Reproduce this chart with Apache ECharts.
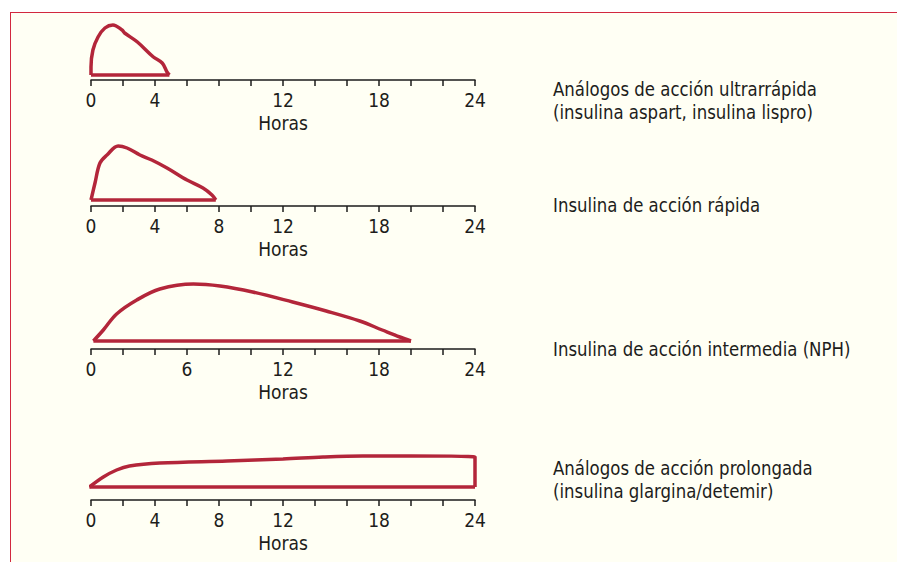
<!DOCTYPE html>
<html>
<head>
<meta charset="utf-8">
<script src="https://cdn.jsdelivr.net/npm/echarts@6/dist/echarts.min.js"></script>
<style>
  html, body { margin: 0; padding: 0; background: #fff; }
  #frame {
    position: absolute; left: 10px; top: 12px; width: 887px; height: 550px;
    background: #fffff4; border-left: 1px solid #d2283f; border-top: 1px solid #d2283f;
  }
  #chart { position: absolute; left: 0; top: 0; width: 897px; height: 562px; }
</style>
</head>
<body>
<div id="frame"></div>
<div id="chart"></div>
<script>
(function() {
  var ink = '#1d1d1b';
  var red = '#b3263a';
  var font = '"DejaVu Sans Condensed", "Liberation Sans", sans-serif';

  // hours vs. relative effect (px-ish units)
  var ultraRapid = [[0, 0], [0, 8], [0.12, 25], [0.44, 38], [0.87, 47], [1.37, 50], [1.94, 45],
    [2.1, 42], [2.9, 33], [3.9, 18], [4.45, 12], [4.75, 3], [4.9, 0]];
  var rapid = [[0, 0], [0.25, 17], [0.56, 37], [1.0, 45], [1.7, 54], [2.25, 52], [3.06, 45],
    [3.8, 40], [4.75, 32], [6.0, 20], [7.0, 12], [7.56, 5], [7.8, 0]];
  var nph = [[0.15, 0], [0.77, 11], [1.6, 27], [2.86, 41], [4.3, 52], [6.4, 57], [8.06, 55],
    [10.1, 49], [12.6, 39], [14.7, 30], [16.8, 20], [18.2, 11], [19.3, 4], [20.0, 0]];
  var prolonged = [[-0.1, 0], [0.77, 10], [1.6, 17], [2.4, 21], [4.3, 24], [8.5, 26],
    [12, 28], [14.5, 30], [17, 31], [20, 31], [24, 30], [24, 0]];

  var tickLabels1 = [0, 4, 12, 18, 24];
  var tickLabels2 = [0, 4, 8, 12, 18, 24];
  var tickLabels3 = [0, 6, 12, 18, 24];
  var tickLabels4 = [0, 4, 8, 12, 18, 24];

  var names = [
    'Análogos de acción ultrarrápida\n(insulina aspart, insulina lispro)',
    'Insulina de acción rápida',
    'Insulina de acción intermedia (NPH)',
    'Análogos de acción prolongada\n(insulina glargina/detemir)'
  ];

  var curves = [ultraRapid, rapid, nph, prolonged];
  var ticks = [tickLabels1, tickLabels2, tickLabels3, tickLabels4];

  // layout per panel: axis line y, y-axis min (gap under curve), label text y
  var axisY = [80, 206, 349, 500];
  var yMin = [-5, -6, -8, -13];
  var textY = [89, 205, 349, 468];

  var grids = [], xAxes = [], yAxes = [], series = [], graphics = [];
  curves.forEach(function(c, i) {
    grids.push({ left: 91, width: 384, top: axisY[i] - 70, height: 70 });
    xAxes.push({
      gridIndex: i, type: 'value', min: 0, max: 24, interval: 2,
      name: 'Horas', nameLocation: 'middle', nameGap: 33,
      nameTextStyle: { color: ink, fontSize: 19, fontFamily: font },
      axisLine: { onZero: false, lineStyle: { color: ink, width: 1.5 } },
      axisTick: { length: 6, lineStyle: { color: ink, width: 1.5 } },
      axisLabel: { customValues: ticks[i], color: ink, fontSize: 19, fontFamily: font, margin: 10 },
      splitLine: { show: false }
    });
    yAxes.push({ gridIndex: i, type: 'value', min: yMin[i], max: 70 + yMin[i], show: false });
    series.push({
      type: 'line', xAxisIndex: i, yAxisIndex: i, data: c, smooth: 0.35,
      showSymbol: false, lineStyle: { color: red, width: 3.5 }, silent: true
    });
    series.push({
      type: 'line', xAxisIndex: i, yAxisIndex: i,
      data: [[c[0][0], 0], [c[c.length - 1][0], 0]],
      showSymbol: false, lineStyle: { color: red, width: 3.5 }, silent: true
    });
    graphics.push({
      type: 'text', left: 553, top: textY[i] - 11, scaleX: 0.97,
      style: { text: names[i], fill: ink, font: '19px ' + font, lineHeight: 23 }
    });
  });

  var chart = echarts.init(document.getElementById('chart'), null, { renderer: 'svg' });
  chart.setOption({
    animation: false,
    grid: grids,
    xAxis: xAxes,
    yAxis: yAxes,
    series: series,
    graphic: graphics
  });
  window.addEventListener('resize', function() { chart.resize(); });
})();
</script>
</body>
</html>
